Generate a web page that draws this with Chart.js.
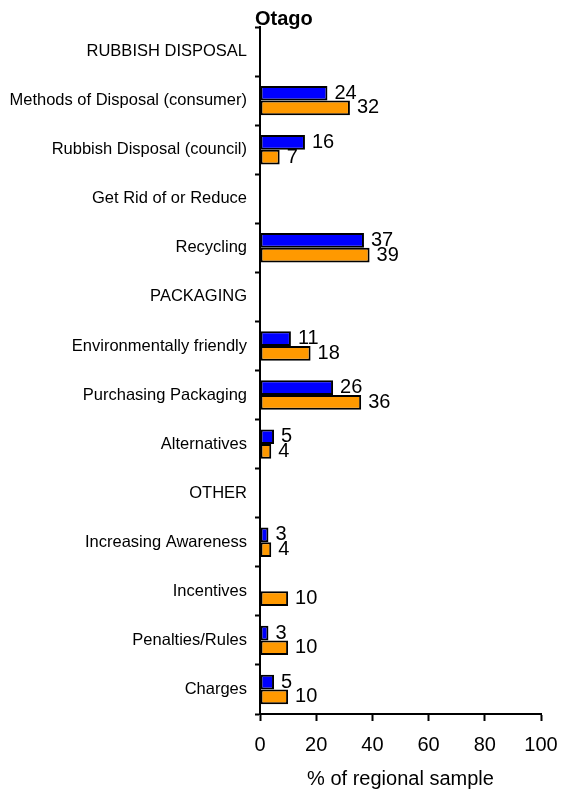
<!DOCTYPE html>
<html>
<head>
<meta charset="utf-8">
<script src="https://cdn.jsdelivr.net/npm/chart.js@4/dist/chart.umd.min.js"></script>
<style>
  html, body { margin:0; padding:0; background:#fff; }
  #wrap { width:561px; height:794px; }
</style>
</head>
<body>
<div id="wrap"><canvas id="chart" width="561" height="794"></canvas></div>
<script>
// ===============================
// DATA
// ===============================
const categories = [
  "RUBBISH DISPOSAL",
  "Methods of Disposal (consumer)",
  "Rubbish Disposal (council)",
  "Get Rid of or Reduce",
  "Recycling",
  "PACKAGING",
  "Environmentally friendly",
  "Purchasing Packaging",
  "Alternatives",
  "OTHER",
  "Increasing Awareness",
  "Incentives",
  "Penalties/Rules",
  "Charges"
];
const blueValues   = [null, 24, 16, null, 37, null, 11, 26, 5, null, 3, null, 3, 5];
const orangeValues = [null, 32, 7, null, 39, null, 18, 36, 4, null, 4, 10, 10, 10];
const xTicks = [0, 20, 40, 60, 80, 100];

const FONT = "'Liberation Sans', Arial, sans-serif";

// value labels next to each bar + title
const labelPlugin = {
  id: "barLabels",
  afterDatasetsDraw(chart){
    const ctx = chart.ctx;
    ctx.save();
    ctx.fillStyle = "#000";
    ctx.font = "20px " + FONT;
    ctx.textBaseline = "middle";
    ctx.textAlign = "left";
    chart.data.datasets.forEach((ds, i) => {
      const meta = chart.getDatasetMeta(i);
      meta.data.forEach((el, j) => {
        const v = ds.data[j];
        if(v === null) return;
        ctx.fillText(String(v), el.x + 7, el.y);
      });
    });
    // title
    ctx.font = "bold 20px " + FONT;
    ctx.textBaseline = "middle";
    ctx.fillText("Otago", 255, 19);
    ctx.restore();
  }
};

new Chart(document.getElementById("chart"), {
  type: "bar",
  data: {
    labels: categories,
    datasets: [
      {
        data: blueValues,
        backgroundColor: "#0000FF",
        borderColor: "#000",
        borderWidth: 2,
        borderSkipped: false,
        categoryPercentage: 0.6,
        barPercentage: 1
      },
      {
        data: orangeValues,
        backgroundColor: "#FF9900",
        borderColor: "#000",
        borderWidth: 2,
        borderSkipped: false,
        categoryPercentage: 0.6,
        barPercentage: 1
      }
    ]
  },
  options: {
    indexAxis: "y",
    responsive: false,
    animation: false,
    layout: { padding: { top: 27, right: 20, left: 0, bottom: 0 } },
    plugins: {
      legend: { display: false },
      tooltip: { enabled: false }
    },
    scales: {
      x: {
        min: 0,
        max: 100,
        afterFit(s){ s.height = 80; s.paddingLeft = 0; s.paddingRight = 0; },
        afterBuildTicks(s){ s.ticks = xTicks.map(v => ({ value: v })); },
        border: { color: "#000", width: 2 },
        grid: { drawOnChartArea: false, color: "#000", tickLength: 7, tickWidth: 2 },
        ticks: { color: "#000", font: { family: FONT, size: 20 }, padding: 12, maxRotation: 0 },
        title: {
          display: true,
          text: "% of regional sample",
          color: "#000",
          font: { family: FONT, size: 20 },
          padding: { top: 0, bottom: 3 }
        }
      },
      y: {
        afterFit(s){ s.width = 260; s.paddingTop = 0; s.paddingBottom = 0; },
        border: { color: "#000", width: 2 },
        grid: { drawOnChartArea: false, color: "#000", tickLength: 5, tickWidth: 2, offset: true },
        ticks: { color: "#000", font: { family: FONT, size: 16.5 }, padding: 8, autoSkip: false }
      }
    }
  },
  plugins: [labelPlugin]
});
</script>
</body>
</html>
